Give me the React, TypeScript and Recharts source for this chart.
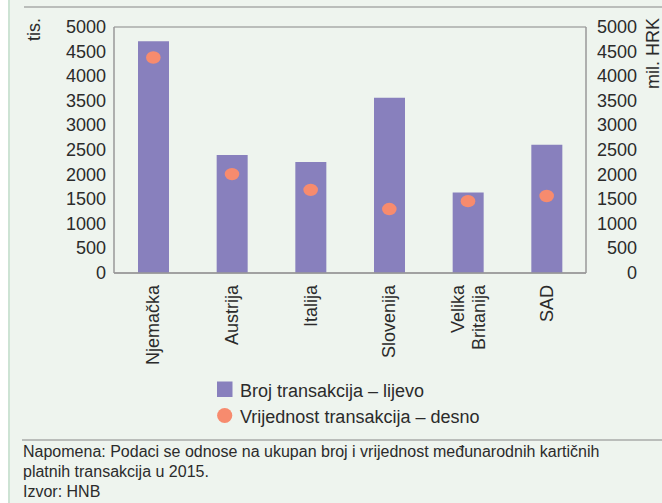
import React from 'react';
import { ComposedChart, Bar, Line, XAxis, YAxis, CartesianGrid } from 'recharts';

const categories = ['Njemačka', 'Austrija', 'Italija', 'Slovenija', 'Velika Britanija', 'SAD'];
const brojTransakcija = [4710, 2400, 2255, 3560, 1635, 2605];
const vrijednostTransakcija = [4380, 2010, 1690, 1300, 1460, 1565];
const yTicks = [0, 500, 1000, 1500, 2000, 2500, 3000, 3500, 4000, 4500, 5000];

const data = categories.map((name, i) => ({
  name,
  broj: brojTransakcija[i],
  vrijednost: vrijednostTransakcija[i],
}));

const FONT = '"Liberation Sans", Arial, Helvetica, sans-serif';
const TEXT = '#2b2b2b';
const BG = '#eef4ee';
const GRID = '#a9aba9';
const BAR = '#8880bd';
const DOT = '#f78b6e';

const XTick = (props: any) => {
  const { x, y, payload } = props;
  const lines: string[] = payload.value === 'Velika Britanija' ? ['Velika', 'Britanija'] : [payload.value];
  const offs = lines.length === 1 ? [0] : [-10.5, 10.5];
  return (
    <g transform={`translate(${x},${y + 4})`}>
      {lines.map((l, i) => (
        <text key={i} transform="rotate(-90)" x={0} y={offs[i]} textAnchor="end"
          dominantBaseline="central" fontSize={18} fill={TEXT} fontFamily={FONT}>
          {l}
        </text>
      ))}
    </g>
  );
};

const LeftTick = (props: any) => (
  <text x={106} y={props.y} textAnchor="end" dominantBaseline="central" fontSize={18} fill={TEXT} fontFamily={FONT}>
    {props.payload.value}
  </text>
);

const RightTick = (props: any) => (
  <text x={637} y={props.y} textAnchor="end" dominantBaseline="central" fontSize={18} fill={TEXT} fontFamily={FONT}>
    {props.payload.value}
  </text>
);

const Dot = (props: any) => {
  const { cx, cy } = props;
  if (cx == null || cy == null) return null;
  return <ellipse cx={cx} cy={cy} rx={7.3} ry={6.2} fill={DOT} />;
};

export default function App() {
  return (
    <div style={{ position: 'absolute', left: 0, top: 0, width: 662, height: 503, background: BG, fontFamily: FONT, overflow: 'hidden' }}>
      <div style={{ position: 'absolute', left: 0, top: 0, width: 8, height: 503, background: '#ffffff' }} />
      <div style={{ position: 'absolute', left: 8, top: 0, width: 2, height: 503, background: '#cde3d4' }} />
      <div style={{ position: 'absolute', left: 0, top: 0 }}>
        <ComposedChart width={662} height={440} data={data} margin={{ top: 27, right: 0, left: 0, bottom: 0 }} barSize={31}>
          <CartesianGrid vertical={false} stroke={GRID} strokeWidth={1.3} />
          <XAxis dataKey="name" height={167} interval={0} tick={<XTick />} tickLine={false}
            axisLine={{ stroke: '#999999', strokeWidth: 1.5 }} />
          <YAxis yAxisId="left" orientation="left" width={114} domain={[0, 5000]} ticks={yTicks}
            tick={<LeftTick />} tickLine={false} axisLine={{ stroke: '#999999', strokeWidth: 1.5 }} />
          <YAxis yAxisId="right" orientation="right" width={76} domain={[0, 5000]} ticks={yTicks}
            tick={<RightTick />} tickLine={false} axisLine={{ stroke: '#999999', strokeWidth: 1.5 }} />
          <Bar yAxisId="left" dataKey="broj" fill={BAR} isAnimationActive={false} />
          <Line yAxisId="right" dataKey="vrijednost" stroke="none" dot={<Dot />} activeDot={false} isAnimationActive={false} />
        </ComposedChart>
      </div>
      <svg width={662} height={503} style={{ position: 'absolute', left: 0, top: 0, pointerEvents: 'none' }}>
        <line x1={24} y1={7} x2={662} y2={7} stroke={GRID} strokeWidth={1.3} />
        <line x1={22} y1={440} x2={662} y2={440} stroke={GRID} strokeWidth={1.3} />
        <text transform="translate(34,18) rotate(-90)" textAnchor="end" dominantBaseline="central" fontSize={18} fill={TEXT} fontFamily={FONT}>tis.</text>
        <text transform="translate(653,18) rotate(-90)" textAnchor="end" dominantBaseline="central" fontSize={18} fill={TEXT} fontFamily={FONT}>mil. HRK</text>
        <rect x={217} y={381.5} width={15.5} height={15.5} fill={BAR} />
        <text x={240} y={396.5} fontSize={18} fill={TEXT} fontFamily={FONT}>Broj transakcija – lijevo</text>
        <circle cx={224.7} cy={415.5} r={7.6} fill={DOT} />
        <text x={240} y={423} fontSize={18} fill={TEXT} fontFamily={FONT}>Vrijednost transakcija – desno</text>
      </svg>
      <div style={{ position: 'absolute', left: 23, top: 442, fontSize: 16, lineHeight: '20px', color: TEXT }}>
        Napomena: Podaci se odnose na ukupan broj i vrijednost međunarodnih kartičnih<br />
        platnih transakcija u 2015.<br />
        Izvor: HNB
      </div>
    </div>
  );
}
